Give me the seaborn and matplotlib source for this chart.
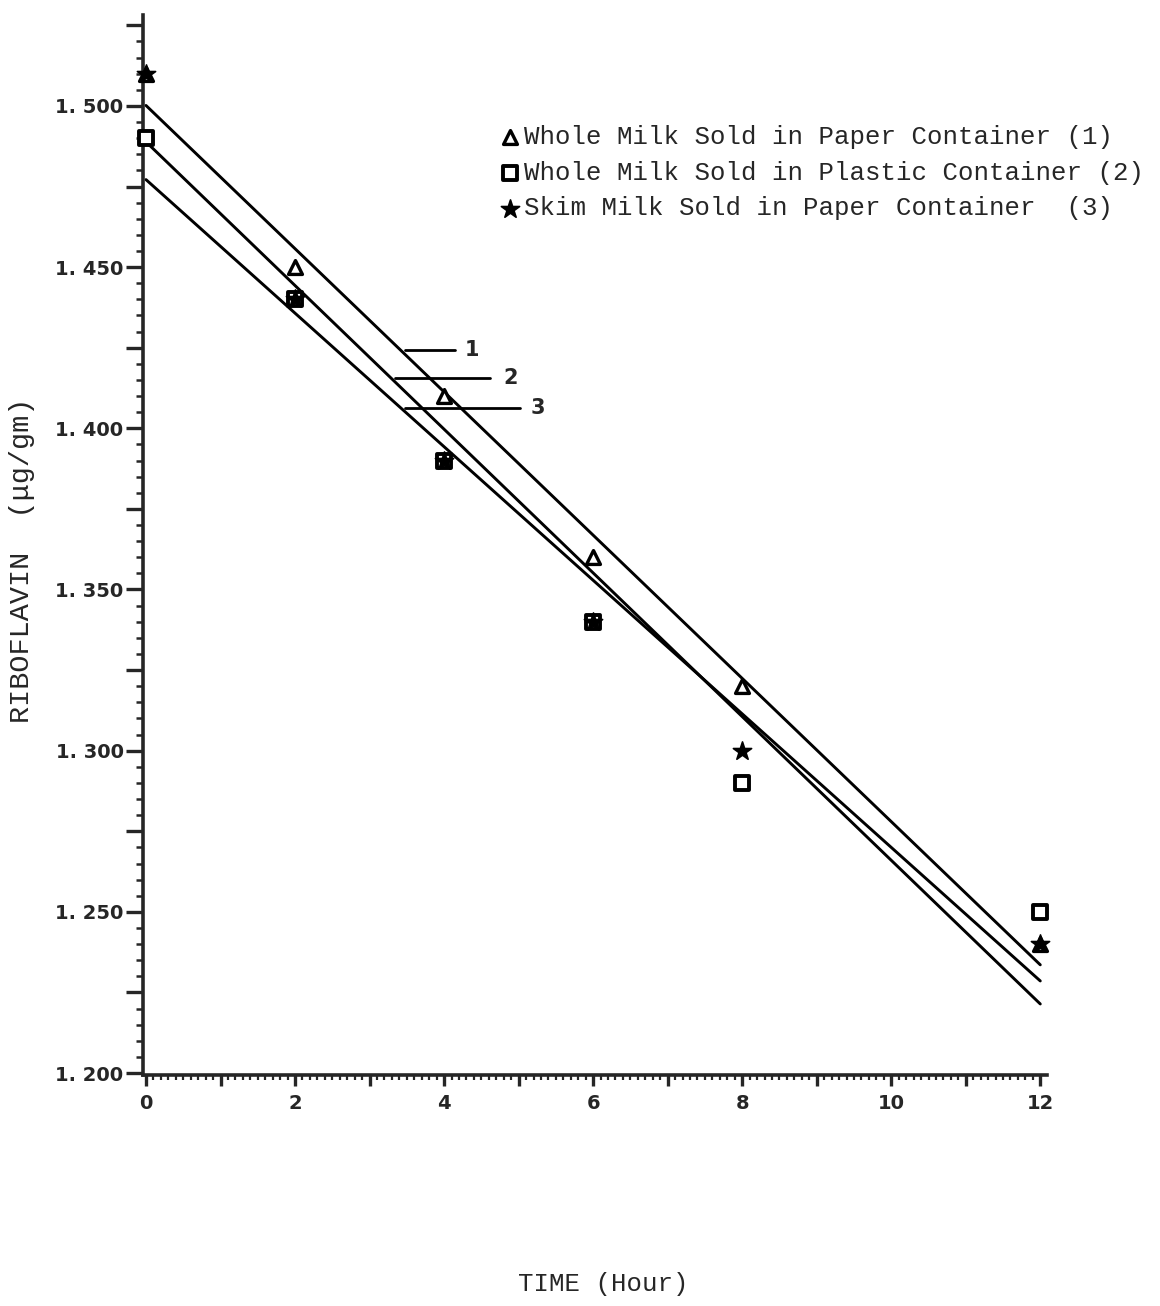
import numpy as np
import pandas as pd
import matplotlib
matplotlib.use("Agg")
import matplotlib.pyplot as plt
import seaborn as sns
from matplotlib.ticker import MultipleLocator, FuncFormatter

# Riboflavin readings (ug/gm) against storage time
hours = [0, 2, 4, 6, 8, 12]
whole_paper = [1.51, 1.45, 1.41, 1.36, 1.32, 1.24]
whole_plastic = [1.49, 1.44, 1.39, 1.34, 1.29, 1.25]
skim_paper = [1.51, 1.44, 1.39, 1.34, 1.30, 1.24]
series_labels = ["Whole Milk Sold in Paper Container (1)",
                 "Whole Milk Sold in Plastic Container (2)",
                 "Skim Milk Sold in Paper Container  (3)"]
line_numbers = ["1", "2", "3"]

sns.set_style("ticks")
plt.rcParams['font.family'] = ['Liberation Mono', 'DejaVu Sans']

fig = plt.figure(figsize=(11.6, 13.06), dpi=100)
ax = fig.add_axes([143 / 1160, 1 - 1075 / 1306, 904 / 1160, 1060 / 1306])

# fitted lines
for vals in [whole_paper, whole_plastic, skim_paper]:
    sns.regplot(x=hours, y=vals, ax=ax, ci=None, scatter=False, truncate=True,
                line_kws=dict(color="black", lw=2.1))

# data points
sns.scatterplot(x=hours, y=whole_paper, marker="^", s=100, color="white",
                edgecolor="black", linewidth=2.4, ax=ax, label=series_labels[0],
                zorder=4, clip_on=False)
sns.scatterplot(x=hours, y=whole_plastic, marker="s", s=90, color="white",
                edgecolor="black", linewidth=2.8, ax=ax, label=series_labels[1],
                zorder=3, clip_on=False)
sns.scatterplot(x=hours, y=skim_paper, marker="*", s=190, color="black",
                edgecolor="black", linewidth=1.2, ax=ax, label=series_labels[2],
                zorder=5, clip_on=False)

# line number call-outs
callouts = [(3.48, 4.15, 1.4243, 4.28), (3.34, 4.62, 1.4156, 4.80), (3.48, 5.02, 1.4063, 5.16)]
for num, (x0, x1, yv, xt) in zip(line_numbers, callouts):
    ax.plot([x0, x1], [yv, yv], color="black", lw=2)
    ax.text(xt, yv, num, fontsize=15, fontweight="bold", family="DejaVu Sans",
            va="center", ha="left")

ax.set_xlim(-0.04, 12.09)
ax.set_ylim(1.1994, 1.5282)

ax.xaxis.set_major_locator(MultipleLocator(1))
ax.xaxis.set_minor_locator(MultipleLocator(0.1))
ax.xaxis.set_major_formatter(FuncFormatter(lambda v, p: str(int(round(v))) if int(round(v)) % 2 == 0 else ""))
ax.yaxis.set_major_locator(MultipleLocator(0.025))
ax.yaxis.set_minor_locator(MultipleLocator(0.005))
ax.yaxis.set_major_formatter(FuncFormatter(
    lambda v, p: ("%.3f" % v).replace(".", ". ") if abs(v / 0.05 - round(v / 0.05)) < 1e-6 else ""))

ax.tick_params(axis="y", which="major", length=12, width=2.4, pad=2, labelsize=14,
               labelfontfamily="DejaVu Sans")
ax.tick_params(axis="y", which="minor", length=5, width=1.8)
ax.tick_params(axis="x", which="major", length=8, width=2.4, pad=6, labelsize=14,
               labelfontfamily="DejaVu Sans")
ax.tick_params(axis="x", which="minor", length=3.5, width=1.6)
for lbl in ax.get_xticklabels() + ax.get_yticklabels():
    lbl.set_fontweight("bold")

sns.despine(ax=ax)
for side in ["left", "bottom"]:
    ax.spines[side].set_linewidth(2.6)

ax.set_xlabel("TIME (Hour)", fontsize=18.5)
ax.xaxis.set_label_coords(0.509, -0.186)
ax.set_ylabel("RIBOFLAVIN  (μg/gm)", fontsize=20.5)
ax.yaxis.set_label_coords(-0.12, 0.486)

ax.legend(loc="upper left", bbox_to_anchor=(0.395, 0.896), frameon=False,
          prop={"family": "Liberation Mono", "size": 18.5}, handletextpad=0.15,
          labelspacing=0.45, handlelength=0.8, borderaxespad=0, borderpad=0)

fig.savefig("out.png", dpi=100)
